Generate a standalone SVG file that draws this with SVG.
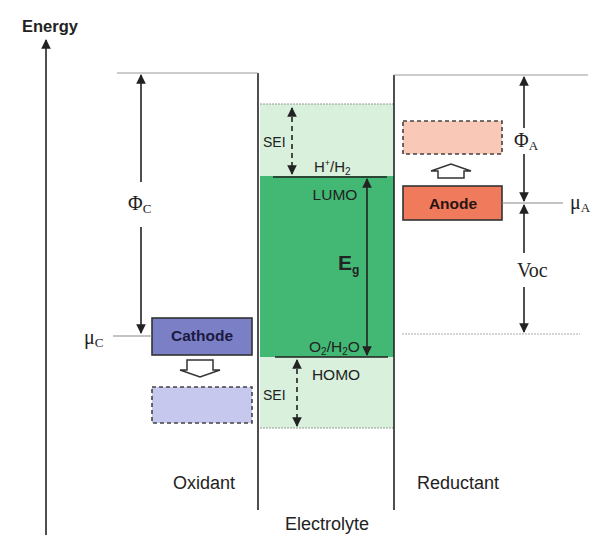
<svg xmlns="http://www.w3.org/2000/svg" width="597" height="538" viewBox="0 0 597 538">
<style>
.sans{font-family:"Liberation Sans",Arial,sans-serif;fill:#222}
.serif{font-family:"Liberation Serif","Times New Roman",serif;fill:#222}
.ln{stroke:#222;stroke-width:1.6;fill:none}
.thin{stroke:#888;stroke-width:1.2;fill:none}
.dash{stroke:#222;stroke-width:1.6;stroke-dasharray:5,4;fill:none}
</style>
<defs>
<marker id="ah" viewBox="0 0 10 10" refX="9" refY="5" markerWidth="6" markerHeight="6" orient="auto-start-reverse">
<path d="M0,0 L10,5 L0,10 z" fill="#222"/>
</marker>
</defs>
<rect width="597" height="538" fill="#fff"/>
<g id="axis">
<line class="ln" x1="46" y1="535" x2="46" y2="40" marker-end="url(#ah)"/>
<text class="sans" x="22" y="32" font-size="16.5" font-weight="bold">Energy</text>
</g>
<g id="electrolyte">
<rect x="260" y="104" width="134" height="324" fill="#d8f0dc"/>
<rect x="260" y="176" width="134" height="181" fill="#43b874"/>
<line x1="260" y1="104" x2="394" y2="104" stroke="#999" stroke-width="1" stroke-dasharray="2,1"/>
<line x1="260" y1="428" x2="394" y2="428" stroke="#999" stroke-width="1" stroke-dasharray="2,1"/>
<line class="ln" x1="273" y1="177" x2="387" y2="177"/>
<line class="ln" x1="275" y1="357" x2="388" y2="357"/>
<text class="sans" x="314" y="172" font-size="15">H<tspan dy="-6" font-size="9">+</tspan><tspan dy="6">/H</tspan><tspan dy="3" font-size="10">2</tspan></text>
<text class="sans" x="335" y="200" font-size="15.5" text-anchor="middle">LUMO</text>
<text class="sans" x="309" y="352" font-size="15.5">O<tspan dy="3" font-size="10">2</tspan><tspan dy="-3">/H</tspan><tspan dy="3" font-size="10">2</tspan><tspan dy="-3">O</tspan></text>
<text class="sans" x="336" y="380" font-size="15.5" text-anchor="middle">HOMO</text>
<text class="sans" x="338" y="270" font-size="21" font-weight="bold">E<tspan dy="4" font-size="12">g</tspan></text>
<text class="sans" x="263" y="147" font-size="14">SEI</text>
<text class="sans" x="263" y="400" font-size="14">SEI</text>
</g>
<g id="walls">
<line class="ln" x1="258" y1="73" x2="258" y2="510"/>
<line x1="117" y1="73" x2="258" y2="73" stroke="#999" stroke-width="1.2"/>
<line class="ln" x1="394" y1="510" x2="394" y2="75"/>
<line x1="394" y1="75" x2="588" y2="75" stroke="#999" stroke-width="1.2"/>
<line x1="402" y1="334" x2="580" y2="334" stroke="#aaa" stroke-width="1" stroke-dasharray="2,1"/>
</g>
<g id="cathode">
<rect x="152" y="318" width="100" height="37" fill="#7b7fc6" stroke="#333" stroke-width="1.6"/>
<text class="sans" x="202" y="341" font-size="15.5" font-weight="bold" text-anchor="middle" style="fill:#1a1a40">Cathode</text>
</g>
<g id="cathode-shift">
<rect x="152" y="387" width="100" height="36" fill="#c6c8ee" stroke="#444" stroke-width="1.6" stroke-dasharray="4,3"/>
<path d="M187,360 L213,360 L213,370 L220,370 L200,377 L180,370 L187,370 Z" fill="#fff" stroke="#333" stroke-width="1.5"/>
</g>
<g id="anode">
<rect x="403" y="186" width="99" height="34" fill="#f07a5c" stroke="#333" stroke-width="1.6"/>
<text class="sans" x="453" y="209" font-size="15.5" font-weight="bold" text-anchor="middle" style="fill:#2a1410">Anode</text>
</g>
<g id="anode-shift">
<rect x="403" y="121" width="99" height="33" fill="#fac8b6" stroke="#444" stroke-width="1.6" stroke-dasharray="4,3"/>
<path d="M438,178 L464,178 L464,171 L471,171 L451,164 L431,171 L438,171 Z" fill="#fff" stroke="#333" stroke-width="1.5"/>
</g>
<g id="connectors">
<line class="ln" x1="141" y1="182" x2="141" y2="75" marker-end="url(#ah)"/>
<line class="ln" x1="141" y1="227" x2="141" y2="333" marker-end="url(#ah)"/>
<line class="thin" x1="113" y1="336" x2="152" y2="336"/>
<line class="dash" x1="292" y1="108" x2="292" y2="174" marker-start="url(#ah)" marker-end="url(#ah)"/>
<line class="dash" x1="297" y1="360" x2="297" y2="426" marker-start="url(#ah)" marker-end="url(#ah)"/>
<line class="ln" x1="367" y1="179" x2="367" y2="355" marker-start="url(#ah)" marker-end="url(#ah)"/>
<line class="ln" x1="524" y1="128" x2="524" y2="77" marker-end="url(#ah)"/>
<line class="ln" x1="524" y1="154" x2="524" y2="201" marker-end="url(#ah)"/>
<line class="ln" x1="524" y1="253" x2="524" y2="205" marker-end="url(#ah)"/>
<line class="ln" x1="524" y1="287" x2="524" y2="332" marker-end="url(#ah)"/>
<line class="thin" x1="502" y1="203" x2="563" y2="203"/>
</g>
<g id="labels">
<text class="serif" x="128" y="210" font-size="20">Φ<tspan dy="3" font-size="13">C</tspan></text>
<text class="serif" x="84" y="344" font-size="20">μ<tspan dy="3" font-size="13">C</tspan></text>
<text class="serif" x="514" y="147" font-size="20">Φ<tspan dy="3" font-size="13">A</tspan></text>
<text class="serif" x="570" y="209" font-size="20">μ<tspan dy="3" font-size="13">A</tspan></text>
<text class="serif" x="517" y="277" font-size="20">Voc</text>
<text class="sans" x="204" y="489" font-size="18" text-anchor="middle">Oxidant</text>
<text class="sans" x="458" y="489" font-size="18" text-anchor="middle">Reductant</text>
<text class="sans" x="327" y="530" font-size="18" text-anchor="middle">Electrolyte</text>
</g>
</svg>
